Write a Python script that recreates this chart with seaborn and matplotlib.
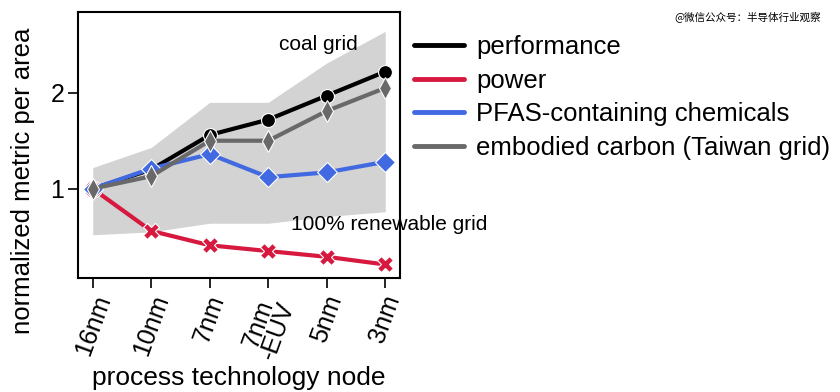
import numpy as np
import pandas as pd
import matplotlib
matplotlib.use('Agg')
import matplotlib.pyplot as plt
import seaborn as sns

nodes = ['16nm', '10nm', '7nm', '7nm\n-EUV', '5nm', '3nm']
performance = [1.00, 1.20, 1.56, 1.72, 1.97, 2.22]
power = [1.00, 0.56, 0.41, 0.35, 0.29, 0.21]
pfas = [1.00, 1.21, 1.36, 1.12, 1.17, 1.28]
embodied = [1.00, 1.13, 1.50, 1.50, 1.81, 2.05]
coal_upper = [1.22, 1.43, 1.90, 1.90, 2.31, 2.64]
renew_lower = [0.52, 0.55, 0.64, 0.64, 0.71, 0.76]

sns.set_style('ticks')
plt.rcParams['font.family'] = ['Liberation Sans', 'Noto Sans CJK SC', 'DejaVu Sans']
plt.rcParams['text.color'] = 'black'
plt.rcParams['axes.labelcolor'] = 'black'
plt.rcParams['xtick.color'] = 'black'
plt.rcParams['ytick.color'] = 'black'

fig = plt.figure(figsize=(8.4, 3.92), dpi=100)
ax = fig.add_axes([0.093, 0.291, 0.383, 0.678])

x = np.arange(len(nodes))
ax.fill_between(x, renew_lower, coal_upper, color='#d3d3d3', lw=0, zorder=0)

series = [
    ('performance', performance, 'black', 'o', 10),
    ('power', power, '#d7193f', 'X', 11),
    ('PFAS-containing chemicals', pfas, '#4169e1', 'D', 10),
    ('embodied carbon (Taiwan grid)', embodied, '#696969', 'd', 11),
]
order = [3, 0, 1, 2]
handles = {}
for i in order:
    name, vals, col, mk, ms = series[i]
    df = pd.DataFrame({'x': x, 'y': vals})
    sns.lineplot(data=df, x='x', y='y', ax=ax, color=col, lw=3, marker=mk,
                 markersize=ms, markeredgecolor='white', markeredgewidth=0.8,
                 zorder=3 + i)
    handles[name] = plt.Line2D([], [], color=col, lw=3.5)

ax.set_xlim(-0.25, 5.25)
ax.set_ylim(0.07, 2.84)
ax.set_xticks(x)
ax.set_xticklabels(nodes, rotation=70, fontsize=18, linespacing=0.8)
ax.set_yticks([1, 2])
ax.set_yticklabels(['1', '2'], fontsize=18)
ax.tick_params(length=7, width=1.2, color='black', pad=3)
for s in ax.spines.values():
    s.set_linewidth(1.5)
    s.set_color('black')
ax.set_xlabel('process technology node', fontsize=19, labelpad=2)
ax.set_ylabel('normalized metric per area', fontsize=18.5)
ax.yaxis.set_label_coords(-0.135, 0.365)

ax.text(3.18, 2.5, 'coal grid', fontsize=15, ha='left', va='center')
ax.text(3.39, 0.63, '100% renewable grid', fontsize=15, ha='left', va='center',
        clip_on=False)

names = [s[0] for s in series]
ax.legend([handles[n] for n in names], names, loc='upper left',
          bbox_to_anchor=(1.045, 0.915), frameon=False, fontsize=18.5,
          handlelength=1.95, handletextpad=0.45, labelspacing=0.38,
          borderaxespad=0.0, borderpad=0.0)

fig.text(0.977, 0.955, '@微信公众号：半导体行业观察', fontsize=7.6, ha='right',
         va='center', family=['Noto Sans CJK SC', 'DejaVu Sans'])

fig.savefig('out.png', dpi=100)
